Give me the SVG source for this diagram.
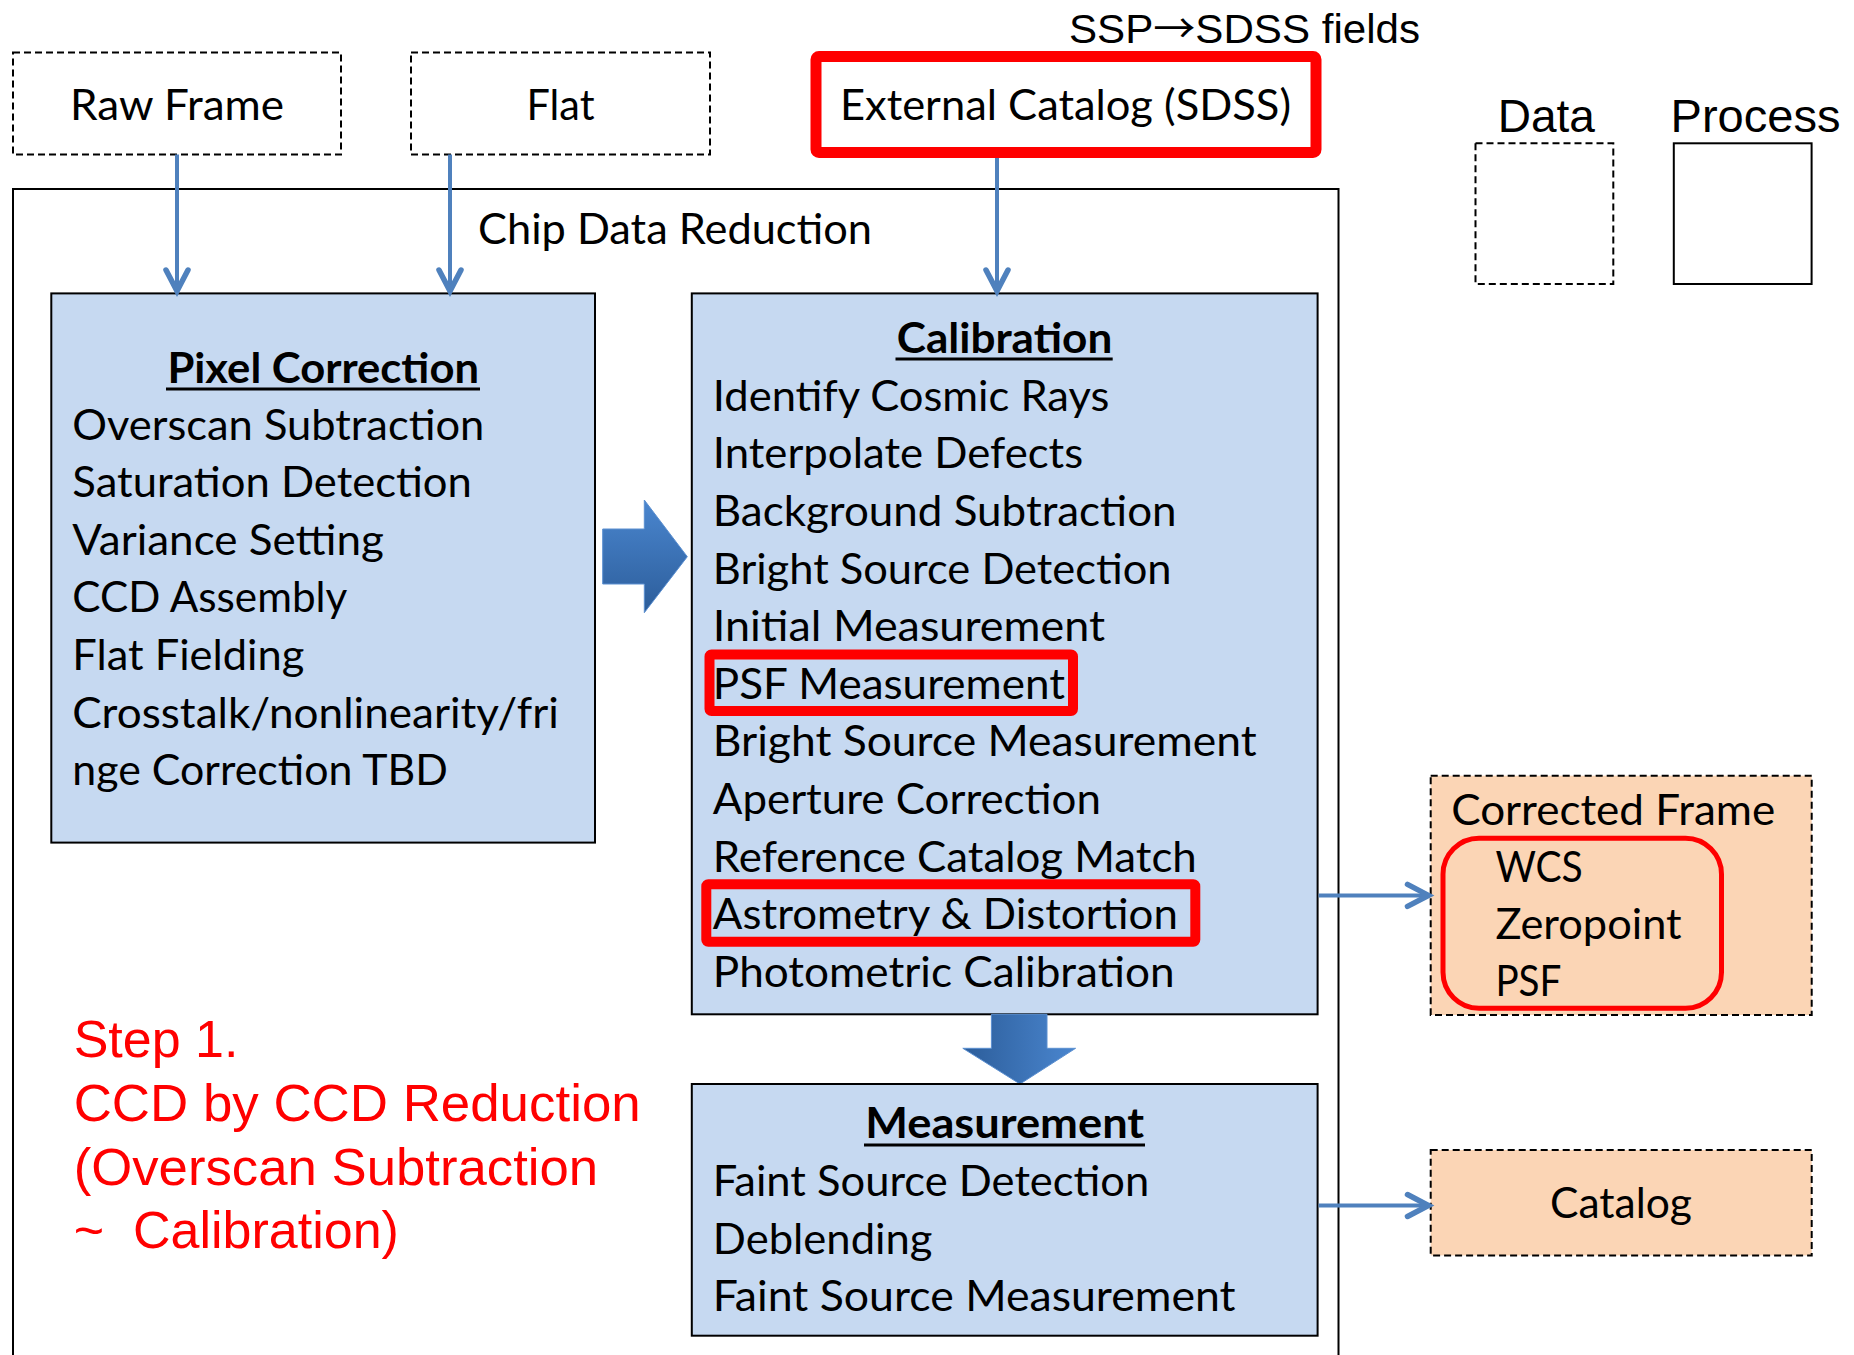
<svg xmlns="http://www.w3.org/2000/svg" width="1854" height="1355" viewBox="0 0 1854 1355">
<style>
.c{font-family:Lato,"Noto Sans",sans-serif;font-size:42px;fill:#000}
.cb{font-family:Lato,"Noto Sans",sans-serif;font-size:42px;font-weight:bold;fill:#000}
.a{font-family:"Liberation Sans",Arial,sans-serif;fill:#000}
.r{font-family:"Liberation Sans",Arial,sans-serif;font-size:52px;fill:#FF0000}
.data{fill:#fff;stroke:#000;stroke-width:2;stroke-dasharray:7,4}
.peach{fill:#FBD5B5;stroke:#000;stroke-width:2;stroke-dasharray:7,4}
.proc{fill:#C6D9F1;stroke:#000;stroke-width:2}
.hl{fill:none;stroke:#FF0000;stroke-width:10}
.ul{stroke:#000;stroke-width:3}
.con{fill:none;stroke:#4F81BD;stroke-width:4}
</style>
<defs>
<marker id="ah" markerUnits="userSpaceOnUse" markerWidth="40" markerHeight="40" viewBox="-30 -20 40 40" refX="0" refY="0" orient="auto">
<path d="M-21,-11 L0,0 L-21,11" fill="none" stroke="#4F81BD" stroke-width="5.5" stroke-linecap="round" stroke-linejoin="miter"/>
</marker>
<linearGradient id="gv" x1="0" y1="0" x2="0" y2="1">
<stop offset="0" stop-color="#4A86CF"/><stop offset="1" stop-color="#2C5D9A"/>
</linearGradient>
<linearGradient id="gh" x1="0" y1="0" x2="1" y2="0">
<stop offset="0" stop-color="#2C5D9A"/><stop offset="1" stop-color="#4A86CF"/>
</linearGradient>
</defs>
<rect width="1854" height="1355" fill="#fff"/>

<g id="chip-data-reduction">
<rect x="13" y="189" width="1325.5" height="1200" fill="none" stroke="#000" stroke-width="2"/>
<text class="c" x="478" y="244" textLength="394" lengthAdjust="spacingAndGlyphs">Chip Data Reduction</text>
</g>

<g id="raw-frame">
<rect class="data" x="13" y="52.5" width="328" height="102"/>
<text class="c" x="177" y="120" text-anchor="middle" textLength="214" lengthAdjust="spacingAndGlyphs">Raw Frame</text>
</g>

<g id="flat">
<rect class="data" x="411" y="52.5" width="299" height="102"/>
<text class="c" x="560.5" y="120" text-anchor="middle" textLength="68" lengthAdjust="spacingAndGlyphs">Flat</text>
</g>

<g id="external-catalog">
<text class="a" x="1069" y="43" font-size="40" textLength="351" lengthAdjust="spacingAndGlyphs">SSP<tspan font-family="'Noto Sans CJK JP',sans-serif">→</tspan>SDSS fields</text>
<rect x="816" y="56.5" width="500" height="96" rx="3" fill="#fff" stroke="#FF0000" stroke-width="11"/>
<text class="c" x="1065.5" y="120" text-anchor="middle" textLength="451" lengthAdjust="spacingAndGlyphs">External Catalog (SDSS)</text>
</g>

<g id="legend-data">
<text class="a" x="1497.7" y="131.7" font-size="46">Data</text>
<rect class="data" x="1475.5" y="143.3" width="137.8" height="140.7"/>
</g>

<g id="legend-process">
<text class="a" x="1670.5" y="131.7" font-size="46" textLength="170" lengthAdjust="spacingAndGlyphs">Process</text>
<rect x="1673.8" y="143.3" width="137.8" height="140.7" fill="#fff" stroke="#000" stroke-width="2"/>
</g>

<g id="pixel-correction">
<rect class="proc" x="51.3" y="293.4" width="543.7" height="549.2"/>
<text class="cb" x="323.2" y="382.6" text-anchor="middle" textLength="311.6" lengthAdjust="spacingAndGlyphs">Pixel Correction</text>
<line class="ul" x1="166" y1="389" x2="480" y2="389"/>
<text class="c" x="72.3" y="439.5" textLength="412" lengthAdjust="spacingAndGlyphs">Overscan Subtraction</text>
<text class="c" x="72.3" y="497.1" textLength="399.6" lengthAdjust="spacingAndGlyphs">Saturation Detection</text>
<text class="c" x="72.3" y="554.7" textLength="311.6" lengthAdjust="spacingAndGlyphs">Variance Setting</text>
<text class="c" x="72.3" y="612.3" textLength="275" lengthAdjust="spacingAndGlyphs">CCD Assembly</text>
<text class="c" x="72.3" y="669.9" textLength="232" lengthAdjust="spacingAndGlyphs">Flat Fielding</text>
<text class="c" x="72.3" y="727.5" textLength="486.6" lengthAdjust="spacingAndGlyphs">Crosstalk/nonlinearity/fri</text>
<text class="c" x="72.3" y="785.1" textLength="375.5" lengthAdjust="spacingAndGlyphs">nge Correction TBD</text>
</g>

<g id="arrow-pixel-to-calibration">
<polygon points="602.7,529 644.3,529 644.3,500 687.3,556.7 644.3,612.7 644.3,584 602.7,584" fill="url(#gv)" stroke="#5B8FD0" stroke-width="1"/>
</g>

<g id="calibration">
<rect class="proc" x="691.8" y="293.4" width="625.8" height="720.9"/>
<text class="cb" x="1004.5" y="352.7" text-anchor="middle" textLength="215.5" lengthAdjust="spacingAndGlyphs">Calibration</text>
<line class="ul" x1="895.5" y1="359" x2="1112.7" y2="359"/>
<text class="c" x="712.8" y="410.5" textLength="396.5" lengthAdjust="spacingAndGlyphs">Identify Cosmic Rays</text>
<text class="c" x="712.8" y="468.2" textLength="370.4" lengthAdjust="spacingAndGlyphs">Interpolate Defects</text>
<text class="c" x="712.8" y="525.8" textLength="463.8" lengthAdjust="spacingAndGlyphs">Background Subtraction</text>
<text class="c" x="712.8" y="583.5" textLength="458.8" lengthAdjust="spacingAndGlyphs">Bright Source Detection</text>
<text class="c" x="712.8" y="641.1" textLength="392.2" lengthAdjust="spacingAndGlyphs">Initial Measurement</text>
<text class="c" x="712.8" y="698.8" textLength="352.2" lengthAdjust="spacingAndGlyphs">PSF Measurement</text>
<rect class="hl" x="709.5" y="654.5" width="363.5" height="56.5" rx="2"/>
<text class="c" x="712.8" y="756.4" textLength="543.8" lengthAdjust="spacingAndGlyphs">Bright Source Measurement</text>
<text class="c" x="712.8" y="814.1" textLength="388.1" lengthAdjust="spacingAndGlyphs">Aperture Correction</text>
<text class="c" x="712.8" y="871.7" textLength="484" lengthAdjust="spacingAndGlyphs">Reference Catalog Match</text>
<text class="c" x="712.8" y="929.4" textLength="465.1" lengthAdjust="spacingAndGlyphs">Astrometry &amp; Distortion</text>
<rect class="hl" x="706.3" y="884.3" width="489" height="57.4" rx="2"/>
<text class="c" x="712.8" y="987" textLength="461.7" lengthAdjust="spacingAndGlyphs">Photometric Calibration</text>
</g>

<g id="arrow-calibration-to-measurement">
<polygon points="991.4,1014.3 1047,1014.3 1047,1048.3 1075.6,1048.3 1020,1084 962.8,1048.3 991.4,1048.3" fill="url(#gh)" stroke="#5B8FD0" stroke-width="1"/>
</g>

<g id="measurement">
<rect class="proc" x="691.8" y="1084" width="625.8" height="251.7"/>
<text class="cb" x="1004.7" y="1138.3" text-anchor="middle" textLength="279" lengthAdjust="spacingAndGlyphs">Measurement</text>
<line class="ul" x1="864" y1="1145" x2="1145" y2="1145"/>
<text class="c" x="712.8" y="1196" textLength="436.5" lengthAdjust="spacingAndGlyphs">Faint Source Detection</text>
<text class="c" x="712.8" y="1253.6" textLength="219.7" lengthAdjust="spacingAndGlyphs">Deblending</text>
<text class="c" x="712.8" y="1311.2" textLength="522.8" lengthAdjust="spacingAndGlyphs">Faint Source Measurement</text>
</g>

<g id="corrected-frame">
<rect class="peach" x="1430.7" y="775.7" width="381" height="239.3"/>
<text class="c" x="1451.2" y="824.6" textLength="324" lengthAdjust="spacingAndGlyphs">Corrected Frame</text>
<rect x="1443" y="838.2" width="278.5" height="170" rx="36" fill="none" stroke="#FF0000" stroke-width="5"/>
<text class="c" x="1495.4" y="882" textLength="87.3" lengthAdjust="spacingAndGlyphs">WCS</text>
<text class="c" x="1495.4" y="939" textLength="186.2" lengthAdjust="spacingAndGlyphs">Zeropoint</text>
<text class="c" x="1495.4" y="996.4" textLength="66" lengthAdjust="spacingAndGlyphs">PSF</text>
</g>

<g id="catalog">
<rect class="peach" x="1430.7" y="1150" width="381" height="105.4"/>
<text class="c" x="1621" y="1218" text-anchor="middle" textLength="142" lengthAdjust="spacingAndGlyphs">Catalog</text>
</g>

<g id="step-note">
<text class="r" x="73.7" y="1056.7">Step 1.</text>
<text class="r" x="73.7" y="1121" textLength="567" lengthAdjust="spacingAndGlyphs">CCD by CCD Reduction</text>
<text class="r" x="73.7" y="1185" textLength="524.5" lengthAdjust="spacingAndGlyphs">(Overscan Subtraction</text>
<text class="r" y="1248.3"><tspan x="73.7">~</tspan><tspan x="133">Calibration)</tspan></text>
</g>

<g id="connectors">
<line class="con" x1="177" y1="154.5" x2="177" y2="291" marker-end="url(#ah)"/>
<line class="con" x1="450" y1="154.5" x2="450" y2="291" marker-end="url(#ah)"/>
<line class="con" x1="997" y1="158" x2="997" y2="291" marker-end="url(#ah)"/>
<line class="con" x1="1318.6" y1="895.4" x2="1428.5" y2="895.4" marker-end="url(#ah)"/>
<line class="con" x1="1318.6" y1="1205.5" x2="1428.5" y2="1205.5" marker-end="url(#ah)"/>
</g>
</svg>
